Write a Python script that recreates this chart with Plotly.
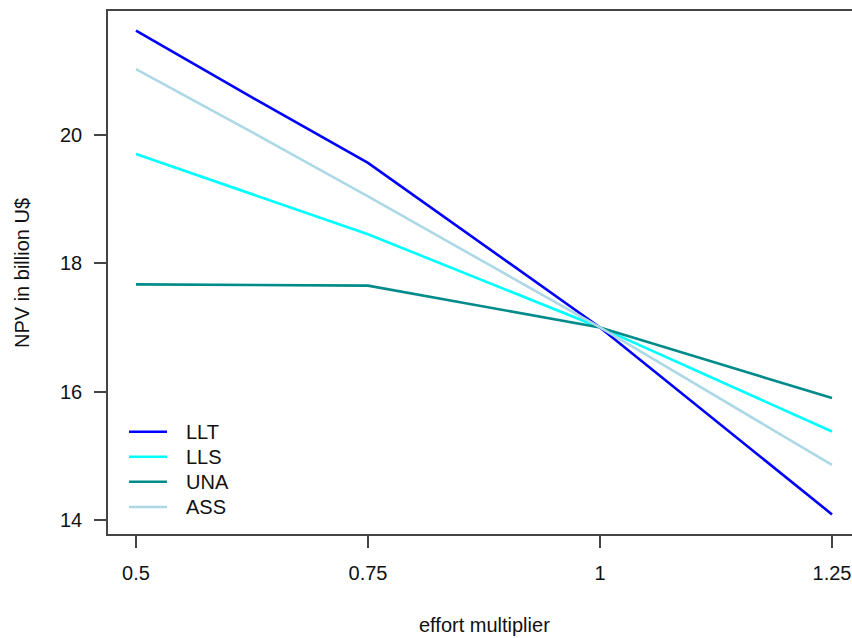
import plotly.graph_objects as go

effort = [0.5, 0.625, 0.75, 1.0, 1.25]
series_names = ["LLT", "LLS", "UNA", "ASS"]
llt = [21.62, 20.58, 19.56, 17.0, 14.09]
lls = [19.70, 19.08, 18.45, 17.0, 15.38]
una = [17.67, 17.66, 17.65, 17.0, 15.90]
ass = [21.02, 20.04, 19.04, 17.0, 14.86]
colors = ["#0000FF", "#00FFFF", "#008B8B", "#ADD8E6"]
x_ticks = [0.5, 0.75, 1, 1.25]
x_tick_labels = ["0.5", "0.75", "1", "1.25"]
y_ticks = [14, 16, 18, 20]
y_tick_labels = ["14", "16", "18", "20"]

W, H = 852, 638
L, T, B, R = 108, 11, 104, 0
pw, ph = W - L - R, H - T - B
FONT = "Liberation Sans, Arial, sans-serif"

fig = go.Figure()
for name, vals, col in zip(series_names, [llt, lls, una, ass], colors):
    fig.add_trace(go.Scatter(x=effort, y=vals, mode="lines", name=name,
                             line=dict(color=col, width=2.6), showlegend=False))

def px_x(p):
    return (p - L) / pw

def px_y(p):
    return (T + ph - p) / ph

# manual legend (R-style)
leg_y = [431.7, 456.7, 481.7, 507.0]
for name, col, yy in zip(series_names, colors, leg_y):
    fig.add_shape(type="line", xref="paper", yref="paper",
                  x0=px_x(129), x1=px_x(167), y0=px_y(yy), y1=px_y(yy),
                  line=dict(color=col, width=2.6))
    fig.add_annotation(xref="paper", yref="paper", x=px_x(184), y=px_y(yy),
                       text=name, showarrow=False, xanchor="left", yanchor="middle",
                       font=dict(family=FONT, size=20, color="#111"))

fig.add_annotation(xref="paper", yref="paper", x=px_x(484), y=px_y(625),
                   text="effort multiplier", showarrow=False,
                   xanchor="center", yanchor="middle",
                   font=dict(family=FONT, size=20, color="#111"))
fig.add_annotation(xref="paper", yref="paper", x=px_x(22), y=px_y(273),
                   text="NPV in billion U$", showarrow=False, textangle=-90,
                   xanchor="center", yanchor="middle",
                   font=dict(family=FONT, size=20, color="#111"))

x0 = 0.5 - (136 - L) / 928.0
x1 = x0 + pw / 928.0
fig.update_layout(
    width=W, height=H,
    margin=dict(l=L, r=R, t=T, b=B, pad=0),
    paper_bgcolor="white", plot_bgcolor="white",
    font=dict(family=FONT, size=20, color="#111"),
    xaxis=dict(range=[x0, x1], tickvals=x_ticks, ticktext=x_tick_labels,
               showgrid=False, zeroline=False, showline=True, mirror=True,
               linecolor="#444", linewidth=1.6, ticks="outside", ticklen=12,
               tickwidth=1.6, tickcolor="#444", ticklabelstandoff=8),
    yaxis=dict(range=[13.785, 21.925], tickvals=y_ticks, ticktext=y_tick_labels,
               showgrid=False, zeroline=False, showline=True, mirror=False,
               linecolor="#444", linewidth=1.6, ticks="outside", ticklen=12,
               tickwidth=1.6, tickcolor="#444", ticklabelstandoff=8),
)
fig.write_html("out.html", config={"displayModeBar": False},
               post_script="document.body.style.margin='0';")
